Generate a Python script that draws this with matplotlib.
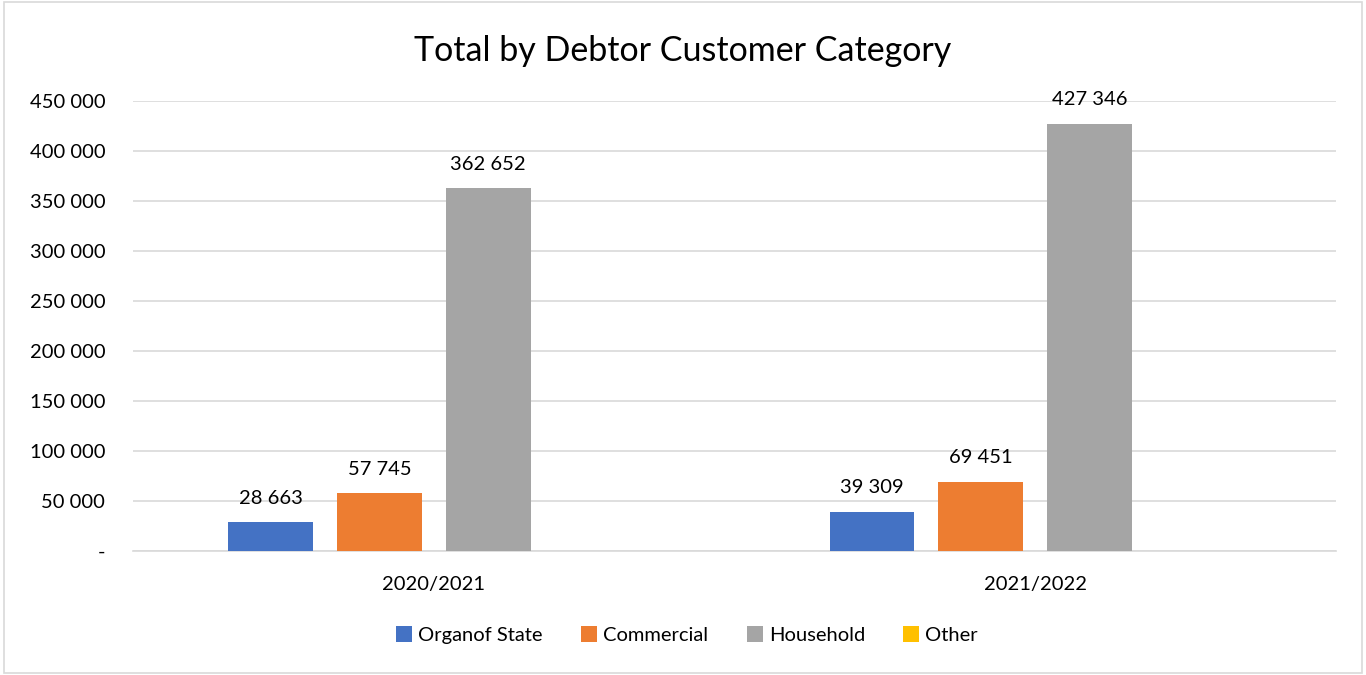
import matplotlib.pyplot as plt
import numpy as np
from matplotlib.patches import Rectangle

plt.rcParams['font.family'] = ['Lato', 'DejaVu Sans']

years = ['2020/2021', '2021/2022']
series_names = ['Organof State', 'Commercial', 'Household', 'Other']
organ_of_state = [28663, 39309]
commercial = [57745, 69451]
household = [362652, 427346]
other = [0, 0]
colors = ['#4472c4', '#ed7d31', '#a5a5a5', '#ffc000']


def fmt_thousands(v):
    if v == 0:
        return '-'
    return f'{int(v):,}'.replace(',', ' ')


fig = plt.figure(figsize=(13.66, 6.75), dpi=100)
fig.patches.append(Rectangle((0.003, 0.003), 0.994, 0.994, transform=fig.transFigure,
                             fill=False, edgecolor='#d9d9d9', linewidth=1.2))
ax = fig.add_axes([133 / 1366, 124 / 675, 1203 / 1366, 450 / 675])

x = np.arange(len(years))
step = 0.181
width = 0.141
all_series = [organ_of_state, commercial, household, other]
for i, (name, vals, col) in enumerate(zip(series_names, all_series, colors)):
    pos = x + (i - 1.5) * step
    bars = ax.bar(pos, vals, width=width, color=col, label=name, zorder=3)
    for b, v in zip(bars, vals):
        if v > 0:
            ax.annotate(fmt_thousands(v), (b.get_x() + b.get_width() / 2, v),
                        xytext=(0, 11), textcoords='offset points',
                        ha='center', va='bottom', fontsize=14.5, color='#000000')

ax.set_xlim(-0.5, 1.5)
ax.set_ylim(0, 450000)
ax.set_yticks(np.arange(0, 450001, 50000))
ax.set_yticklabels([fmt_thousands(v) for v in np.arange(0, 450001, 50000)])
ax.set_xticks(x)
ax.set_xticklabels(years)
ax.tick_params(axis='both', length=0, labelsize=14.5, colors='#000000')
ax.tick_params(axis='x', pad=18)
ax.tick_params(axis='y', pad=20)
ax.grid(axis='y', color='#d9d9d9', linewidth=1.2, zorder=0)
for s in ['top', 'right', 'left']:
    ax.spines[s].set_visible(False)
ax.spines['bottom'].set_color('#d9d9d9')
ax.spines['bottom'].set_linewidth(1.2)

fig.text(0.5, 0.925, 'Total by Debtor Customer Category', ha='center', va='center',
         fontsize=24.5, color='#000000')
fig.legend(loc='center', bbox_to_anchor=(0.503, 0.059), ncol=4, frameon=False,
           fontsize=14.5, handlelength=0.8, handleheight=0.8, handletextpad=0.3,
           columnspacing=1.9)

fig.savefig('out.png', dpi=100)
